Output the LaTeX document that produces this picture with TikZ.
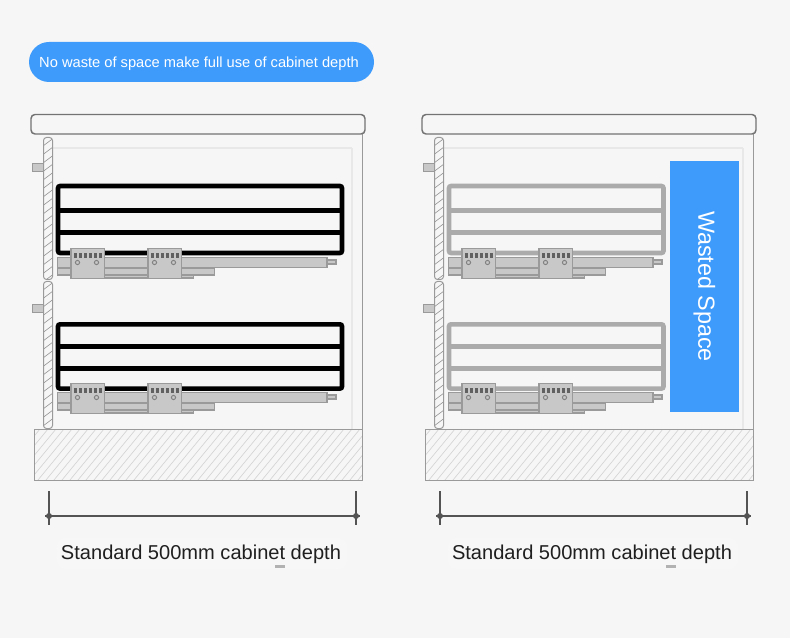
\documentclass[tikz,border=0pt]{standalone}
\usepackage{fontspec}
\setmainfont{Liberation Sans}
\definecolor{pagegray}{HTML}{F6F6F6}
\definecolor{tagblue}{HTML}{3F9BFB}
\definecolor{wiregray}{HTML}{ABABAB}
\definecolor{railgray}{HTML}{C8C8C8}
\definecolor{edgegray}{HTML}{9A9A9A}
\tikzset{
  railbox/.style={fill=railgray,draw=edgegray,line width=0.9pt},
  wallbox/.style={draw=edgegray,line width=0.75pt,rounded corners=2.25pt},
  hatchline/.style={draw=edgegray,line width=0.5pt},
  floorline/.style={draw=black!17,line width=0.5pt},
  faintline/.style={draw=black!9,line width=1pt},
  dimline/.style={draw=black!67,line width=1pt},
  wirebar/.style={line width=3.4pt},
  tagbox/.style={fill=tagblue,text=white,inner sep=0pt,align=center}
}
\begin{document}
\begin{tikzpicture}[x=0.75pt,y=-0.75pt]
    \useasboundingbox (0,0) rectangle (790,638);
    \fill[pagegray] (0,0) rectangle (790,638);

    % Heading
    \fill[tagblue,rounded corners=15pt] (29,42) rectangle (374,82);
    \node[text=white,inner sep=0pt,font=\fontsize{11}{13}\selectfont] (headline) at (199,63.5) {No waste of space make full use of cabinet depth};

    % Two cabinets, the second one with the shorter drawers
    \foreach \dx/\wirecol/\wirex/\railx in {0/black/342/327,391/wiregray/272.5/262} {
    \begin{scope}[shift={(\dx,0)}]
        % Faint inner lines and side wall
        \draw[faintline] (53,148) -- (352,148);
        \draw[faintline] (352,148) -- (352,429);
        \draw[draw=edgegray,line width=0.75pt] (362.5,134) -- (362.5,480);

        % Worktop
        \draw[draw=black!55,line width=1.1pt,rounded corners=3pt] (31,114.5) rectangle (365,134);

        % Back wall, two hatched panels
        \foreach \wa/\wb in {137.5/279.5,281.5/428.5} {
            \begin{scope}
                \clip[rounded corners=2.25pt] (43.5,\wa) rectangle (52.5,\wb);
                \foreach \hy in {0,8.5,...,153} {
                    \draw[hatchline] (43,\wa+\hy) -- (53,\wa+\hy-7.5);
                }
            \end{scope}
            \draw[wallbox] (43.5,\wa) rectangle (52.5,\wb);
        }

        % Wall brackets
        \draw[railbox] (32.5,163.5) rectangle (43.5,171.5);
        \draw[railbox] (32.5,304.5) rectangle (43.5,312.5);

        % Wire baskets
        \foreach \wt/\wp/\wq/\wu in {186/210.3/232.3/253,324.3/346.3/368.3/388.6} {
            \draw[wirebar,\wirecol,rounded corners=1.5pt] (58,\wt) rectangle (\wirex,\wu);
            \draw[wirebar,\wirecol] (58,\wp) -- (\wirex,\wp);
            \draw[wirebar,\wirecol] (58,\wq) -- (\wirex,\wq);
        }

        % Runners
        \foreach \ry in {0,135} {
        \begin{scope}[shift={(0,\ry)}]
            \draw[railbox] (71,275) rectangle (193.7,278);
            \draw[railbox] (57.5,268) rectangle (214.5,275);
            \draw[railbox] (\railx,260) rectangle (\railx+9,264);
            \draw[railbox] (57.5,257.5) rectangle (\railx,267.7);
            \foreach \bx in {71,148} {
                \draw[railbox] (\bx,248.3) rectangle (\bx+33.7,278.3);
                \foreach \tx in {3,8,...,28} {
                    \fill[black!62] (\bx+\tx,253.5) rectangle (\bx+\tx+3.2,258.2);
                }
                \draw[black!50,line width=0.7pt] (\bx+6.5,262.5) circle (2.1);
                \draw[black!50,line width=0.7pt] (\bx+25.5,262.5) circle (2.1);
            }
        \end{scope}
        }

        % Plinth
        \begin{scope}
            \clip (34,429.5) rectangle (362.5,480);
            \foreach \hx in {-10,-2,...,362} {
                \draw[floorline] (\hx,480) -- (\hx+42,429);
            }
        \end{scope}
        \draw[draw=edgegray,line width=0.75pt] (34,429.5) rectangle (362.5,480);

        % Depth dimension
        \coordinate (dimL\dx) at (49,516);
        \coordinate (dimR\dx) at (356,516);
        \draw[dimline] (dimL\dx) -- (dimR\dx);
        \draw[dimline] (49,491) -- (49,525);
        \draw[dimline] (356,491) -- (356,525);
        \fill[black!67] (dimL\dx) circle (3);
        \fill[black!67] (dimR\dx) circle (3);
        \draw[dimline] (45,516) -- (dimL\dx);
        \draw[dimline] (dimR\dx) -- (360,516);

        % Caption with its pale patch
        \fill[black!3,rounded corners=6pt] (57,538) rectangle (347,569);
        \fill[black!30] (275,565) rectangle (285,568);
        \node[font=\fontsize{15.05}{17}\selectfont,text=black!88,inner sep=0pt] (depthLabel\dx) at (201,554.5) {Standard 500mm cabinet depth};
    \end{scope}
    }

    % Unused depth in the second cabinet
    \node[fill=tagblue,minimum width=188.25pt,minimum height=51.75pt,text=white,inner sep=0pt,rotate=-90,font=\fontsize{17.5}{20}\selectfont] (wastedSpace) at (704.5,286.5) {Wasted Space};
\end{tikzpicture}
\end{document}
